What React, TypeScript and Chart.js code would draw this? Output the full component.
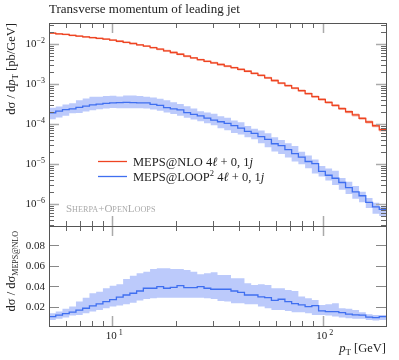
import React, { useEffect, useRef } from "react";
import { Chart, registerables } from "chart.js";

Chart.register(...registerables);

// ---- data ----
const binEdges = [
  5.0, 5.383, 5.795, 6.238, 6.716, 7.23, 7.784, 8.38, 9.021, 9.712,
  10.456, 11.256, 12.118, 13.046, 14.045, 15.12, 16.278, 17.524, 18.866, 20.31,
  21.866, 23.54, 25.342, 27.282, 29.371, 31.623, 34.044, 36.65, 39.456, 42.477,
  45.73, 49.231, 53.0, 57.058, 61.427, 66.13, 71.193, 76.644, 82.512, 88.83,
  95.631, 102.95, 110.84, 119.32, 128.46, 138.3, 148.89, 160.29, 172.56, 185.77,
  200.0,
];

// MEPS@NLO 4l+0,1j  [pb/GeV]
const nloValues = [
  0.0187, 0.018, 0.0173, 0.0165, 0.0158, 0.0151, 0.0145, 0.0138, 0.0132, 0.0125,
  0.0117, 0.011, 0.0103, 0.00955, 0.00886, 0.00813, 0.00741, 0.00676, 0.00613, 0.00553,
  0.00498, 0.00449, 0.00405, 0.00369, 0.00337, 0.00307, 0.0028, 0.00256, 0.00232, 0.00208,
  0.00185, 0.00164, 0.00142, 0.00122, 0.00105, 0.000912, 0.00079, 0.00068, 0.000575, 0.000484,
  0.00041, 0.000345, 0.00029, 0.000243, 0.000202, 0.000168, 0.000138, 0.000112, 0.0000902, 0.0000716,
];
const nloRelErr = [
  0.05, 0.05, 0.05, 0.05, 0.05, 0.05, 0.05, 0.05, 0.05, 0.05,
  0.05, 0.05, 0.05, 0.05, 0.055, 0.055, 0.055, 0.055, 0.055, 0.055,
  0.06, 0.06, 0.06, 0.06, 0.06, 0.06, 0.06, 0.06, 0.06, 0.06,
  0.065, 0.065, 0.065, 0.065, 0.065, 0.07, 0.07, 0.07, 0.07, 0.07,
  0.075, 0.075, 0.075, 0.075, 0.08, 0.08, 0.08, 0.085, 0.085, 0.09,
];

// MEPS@LOOP2 / MEPS@NLO
const ratioValues = [
  0.0102, 0.0116, 0.0132, 0.0145, 0.0165, 0.0184, 0.0207, 0.0226, 0.0249, 0.0268,
  0.0292, 0.0314, 0.0331, 0.0353, 0.038, 0.038, 0.0395, 0.038, 0.0389, 0.0405,
  0.0386, 0.0386, 0.0395, 0.038, 0.037, 0.037, 0.037, 0.0353, 0.034, 0.0314,
  0.0314, 0.0295, 0.0288, 0.0262, 0.0272, 0.0249, 0.0229, 0.0217, 0.02, 0.021,
  0.0158, 0.0151, 0.0151, 0.0141, 0.0126, 0.0119, 0.0116, 0.0097, 0.0093, 0.0102,
];
const ratioLow = [
  0.007, 0.008, 0.0093, 0.0112, 0.0119, 0.0136, 0.0151, 0.0168, 0.0184, 0.02,
  0.021, 0.0223, 0.0239, 0.0259, 0.0275, 0.0282, 0.0288, 0.0288, 0.0288, 0.0288,
  0.0288, 0.0288, 0.0288, 0.0282, 0.0275, 0.0256, 0.0249, 0.0233, 0.0233, 0.0223,
  0.0223, 0.02, 0.0184, 0.0168, 0.0168, 0.0158, 0.0145, 0.0145, 0.0136, 0.0119,
  0.0119, 0.0112, 0.0102, 0.0093, 0.0087, 0.008, 0.008, 0.007, 0.0063, 0.007,
];
const ratioHigh = [
  0.0136, 0.0151, 0.0178, 0.02, 0.0249, 0.0288, 0.033, 0.0346, 0.0379, 0.0405,
  0.0418, 0.047, 0.0503, 0.0526, 0.0541, 0.0568, 0.0575, 0.0575, 0.0568, 0.0568,
  0.0558, 0.0541, 0.0516, 0.0526, 0.0536, 0.0509, 0.0509, 0.0477, 0.0477, 0.0428,
  0.0412, 0.0418, 0.0412, 0.0379, 0.0379, 0.0363, 0.0353, 0.0298, 0.0282, 0.0265,
  0.0217, 0.0223, 0.0233, 0.0184, 0.0178, 0.0168, 0.0145, 0.0126, 0.0119, 0.0119,
];

const mainYMajor = [1e-6, 1e-5, 1e-4, 1e-3, 1e-2];
const mainYMajorExp = ["−6", "−5", "−4", "−3", "−2"];
const ratioYTicks = [0.02, 0.04, 0.06, 0.08];
const ratioYLabels = ["0.02", "0.04", "0.06", "0.08"];
const xMajor = [10, 100];
const xMajorExp = ["1", "2"];

const titleText = "Transverse momentum of leading jet";

// ---- styles ----
const SERIF = '"Liberation Serif", "DejaVu Serif", serif';
const RED = "#ee4422";
const RED_BAND = "#f8b9ab";
const BLUE = "#3f6ff0";
const BLUE_BAND = "#bccafb";
const FRAME = "#555555";

type Seg = { t: string; f: string; dy?: number };

function drawRich(ctx: CanvasRenderingContext2D, segs: Seg[], x: number, y: number, align: "left" | "right" | "center") {
  let w = 0;
  for (const s of segs) {
    ctx.font = s.f;
    w += ctx.measureText(s.t).width;
  }
  let cx = align === "left" ? x : align === "right" ? x - w : x - w / 2;
  ctx.textAlign = "left";
  ctx.textBaseline = "alphabetic";
  for (const s of segs) {
    ctx.font = s.f;
    ctx.fillText(s.t, cx, y + (s.dy || 0));
    cx += ctx.measureText(s.t).width;
  }
}

const f = (size: number, style = "") => `${style} ${size}px ${SERIF}`.trim();

function stepPoints(vals: number[]) {
  const pts = vals.map((v, i) => ({ x: binEdges[i], y: v }));
  pts.push({ x: binEdges[binEdges.length - 1], y: vals[vals.length - 1] });
  return pts;
}

function bandSet(vals: number[], fillColor: string, fill: any, order: number) {
  return {
    data: stepPoints(vals),
    borderWidth: 0,
    borderColor: "rgba(0,0,0,0)",
    backgroundColor: fillColor,
    pointRadius: 0,
    stepped: true,
    fill,
    order,
  } as any;
}

function lineSet(vals: number[], color: string, order: number) {
  return {
    data: stepPoints(vals),
    borderWidth: 1.3,
    borderColor: color,
    backgroundColor: color,
    pointRadius: 0,
    stepped: true,
    fill: false,
    order,
  } as any;
}

function drawXTicks(ctx: CanvasRenderingContext2D, chart: any, yEdge: number, dir: number) {
  const xs = chart.scales.x;
  for (let d = 0; d <= 2; d++) {
    for (let m = 1; m <= 9; m++) {
      const v = m * Math.pow(10, d);
      if (v < 5 || v > 200) continue;
      const px = Math.round(xs.getPixelForValue(v)) + 0.5;
      const major = m === 1;
      ctx.strokeStyle = major ? "#aaaaaa" : "#666666";
      ctx.lineWidth = major ? 1.5 : 1;
      const len = major ? 10 : 5;
      ctx.beginPath();
      ctx.moveTo(px, yEdge);
      ctx.lineTo(px, yEdge + dir * len);
      ctx.stroke();
    }
  }
}

function drawFrame(ctx: CanvasRenderingContext2D, a: any) {
  ctx.strokeStyle = FRAME;
  ctx.lineWidth = 1;
  ctx.strokeRect(Math.round(a.left) + 0.5, Math.round(a.top) + 0.5, Math.round(a.right - a.left), Math.round(a.bottom - a.top));
}

const mainDecor = {
  id: "mainDecor",
  afterDraw(chart: any) {
    const ctx: CanvasRenderingContext2D = chart.ctx;
    const a = chart.chartArea;
    const ys = chart.scales.y;
    ctx.save();
    // y ticks
    for (let d = -7; d <= -1; d++) {
      for (let m = 1; m <= 9; m++) {
        const v = m * Math.pow(10, d);
        if (v < ys.min || v > ys.max) continue;
        const py = Math.round(ys.getPixelForValue(v)) + 0.5;
        const major = m === 1;
        ctx.strokeStyle = major ? "#aaaaaa" : "#666666";
        ctx.lineWidth = major ? 1.5 : 1;
        const len = major ? 10 : 5;
        ctx.beginPath();
        ctx.moveTo(a.left, py);
        ctx.lineTo(a.left + len, py);
        ctx.moveTo(a.right, py);
        ctx.lineTo(a.right - len, py);
        ctx.stroke();
      }
    }
    drawXTicks(ctx, chart, a.top, 1);
    drawXTicks(ctx, chart, a.bottom, -1);
    drawFrame(ctx, a);

    ctx.fillStyle = "#222222";
    // y tick labels
    mainYMajor.forEach((v, i) => {
      const py = ys.getPixelForValue(v);
      drawRich(ctx, [
        { t: "10", f: f(11) },
        { t: mainYMajorExp[i], f: f(8), dy: -4.5 },
      ], 45, py + 3.5, "right");
    });

    // title
    drawRich(ctx, [{ t: titleText, f: f(13) }], 49, 13, "left");

    // y title
    ctx.save();
    ctx.translate(15, 23);
    ctx.rotate(-Math.PI / 2);
    drawRich(ctx, [
      { t: "dσ / d", f: f(12.5) },
      { t: "p", f: f(12.5, "italic") },
      { t: "T", f: f(9), dy: 3 },
      { t: " [pb/GeV]", f: f(12.5) },
    ], 0, 0, "right");
    ctx.restore();

    // legend
    const legY = [161.5, 176.5];
    const legC = [RED, BLUE];
    legC.forEach((c, i) => {
      ctx.strokeStyle = c;
      ctx.lineWidth = 1.3;
      ctx.beginPath();
      ctx.moveTo(98, legY[i]);
      ctx.lineTo(127, legY[i]);
      ctx.stroke();
    });
    ctx.fillStyle = "#222222";
    drawRich(ctx, [
      { t: "MEPS@NLO 4", f: f(12.5) },
      { t: "ℓ", f: f(12.5, "italic") },
      { t: " + 0, 1", f: f(12.5) },
      { t: "j", f: f(12.5, "italic") },
    ], 133, legY[0] + 4, "left");
    drawRich(ctx, [
      { t: "MEPS@LOOP", f: f(12.5) },
      { t: "2", f: f(8.5), dy: -5 },
      { t: " 4", f: f(12.5) },
      { t: "ℓ", f: f(12.5, "italic") },
      { t: " + 0, 1", f: f(12.5) },
      { t: "j", f: f(12.5, "italic") },
    ], 133, legY[1] + 4, "left");

    // generator tag (small caps)
    ctx.fillStyle = "#aaaaaa";
    drawRich(ctx, [
      { t: "S", f: f(11) },
      { t: "HERPA", f: f(8.2) },
      { t: "+O", f: f(11) },
      { t: "PEN", f: f(8.2) },
      { t: "L", f: f(11) },
      { t: "OOPS", f: f(8.2) },
    ], 66, 212, "left");
    ctx.restore();
  },
};

const ratioDecor = {
  id: "ratioDecor",
  afterDraw(chart: any) {
    const ctx: CanvasRenderingContext2D = chart.ctx;
    const a = chart.chartArea;
    const ys = chart.scales.y;
    const xs = chart.scales.x;
    ctx.save();
    ratioYTicks.forEach((v) => {
      const py = Math.round(ys.getPixelForValue(v)) + 0.5;
      ctx.strokeStyle = "#888888";
      ctx.lineWidth = 1.2;
      ctx.beginPath();
      ctx.moveTo(a.left, py);
      ctx.lineTo(a.left + 10, py);
      ctx.moveTo(a.right, py);
      ctx.lineTo(a.right - 10, py);
      ctx.stroke();
    });
    drawXTicks(ctx, chart, a.top, 1);
    drawXTicks(ctx, chart, a.bottom, -1);
    drawFrame(ctx, a);

    ctx.fillStyle = "#222222";
    ratioYTicks.forEach((v, i) => {
      const py = ys.getPixelForValue(v);
      drawRich(ctx, [{ t: ratioYLabels[i], f: f(11) }], 45, py + 3.5, "right");
    });
    xMajor.forEach((v, i) => {
      const px = xs.getPixelForValue(v);
      drawRich(ctx, [
        { t: "10", f: f(11) },
        { t: " " + xMajorExp[i], f: f(8), dy: -4.5 },
      ], px + 2, 339, "center");
    });
    drawRich(ctx, [
      { t: "p", f: f(12.5, "italic") },
      { t: "T", f: f(9), dy: 3 },
      { t: " [GeV]", f: f(12.5) },
    ], 386, 352, "right");

    ctx.save();
    ctx.translate(15, 231);
    ctx.rotate(-Math.PI / 2);
    drawRich(ctx, [
      { t: "dσ / dσ", f: f(12.5) },
      { t: "MEPS@NLO", f: f(8), dy: 3 },
    ], 0, 0, "right");
    ctx.restore();
    ctx.restore();
  },
};

export default function App() {
  const mainRef = useRef<HTMLCanvasElement | null>(null);
  const ratioRef = useRef<HTMLCanvasElement | null>(null);

  useEffect(() => {
    const blueValues = nloValues.map((v, i) => v * ratioValues[i]);
    const blueLow = nloValues.map((v, i) => v * ratioLow[i]);
    const blueHigh = nloValues.map((v, i) => v * ratioHigh[i]);
    const redLow = nloValues.map((v, i) => v * (1 - nloRelErr[i]));
    const redHigh = nloValues.map((v, i) => v * (1 + nloRelErr[i]));

    const xScale = { type: "logarithmic", min: 5, max: 200, display: false } as any;

    const main = new Chart(mainRef.current as HTMLCanvasElement, {
      type: "line",
      data: {
        datasets: [
          bandSet(redLow, RED_BAND, false, 5),
          bandSet(redHigh, RED_BAND, "-1", 5),
          bandSet(blueLow, BLUE_BAND, false, 5),
          bandSet(blueHigh, BLUE_BAND, "-1", 5),
          lineSet(nloValues, RED, 0),
          lineSet(blueValues, BLUE, 0),
        ],
      },
      options: {
        responsive: false,
        animation: false,
        events: [],
        layout: { padding: { left: 49, right: 13, top: 23, bottom: 134 } },
        scales: {
          x: xScale,
          y: { type: "logarithmic", min: 2.8e-7, max: 3.35e-2, display: false } as any,
        },
        plugins: { legend: { display: false }, tooltip: { enabled: false } },
      } as any,
      plugins: [mainDecor],
    });

    const ratio = new Chart(ratioRef.current as HTMLCanvasElement, {
      type: "line",
      data: {
        datasets: [
          bandSet(ratioLow, BLUE_BAND, false, 5),
          bandSet(ratioHigh, BLUE_BAND, "-1", 5),
          lineSet(ratioValues, BLUE, 0),
        ],
      },
      options: {
        responsive: false,
        animation: false,
        events: [],
        layout: { padding: { left: 49, right: 13, top: 226, bottom: 34 } },
        scales: {
          x: { ...xScale },
          y: { type: "linear", min: 0.001, max: 0.099, display: false } as any,
        },
        plugins: { legend: { display: false }, tooltip: { enabled: false } },
      } as any,
      plugins: [ratioDecor],
    });

    return () => {
      main.destroy();
      ratio.destroy();
    };
  }, []);

  const cstyle: React.CSSProperties = { position: "absolute", left: 0, top: 0, width: 399, height: 360, display: "block" };
  return (
    <div style={{ position: "absolute", left: 0, top: 0, width: 399, height: 360, background: "#ffffff" }}>
      <canvas ref={ratioRef} width={399} height={360} style={cstyle} />
      <canvas ref={mainRef} width={399} height={360} style={cstyle} />
    </div>
  );
}
